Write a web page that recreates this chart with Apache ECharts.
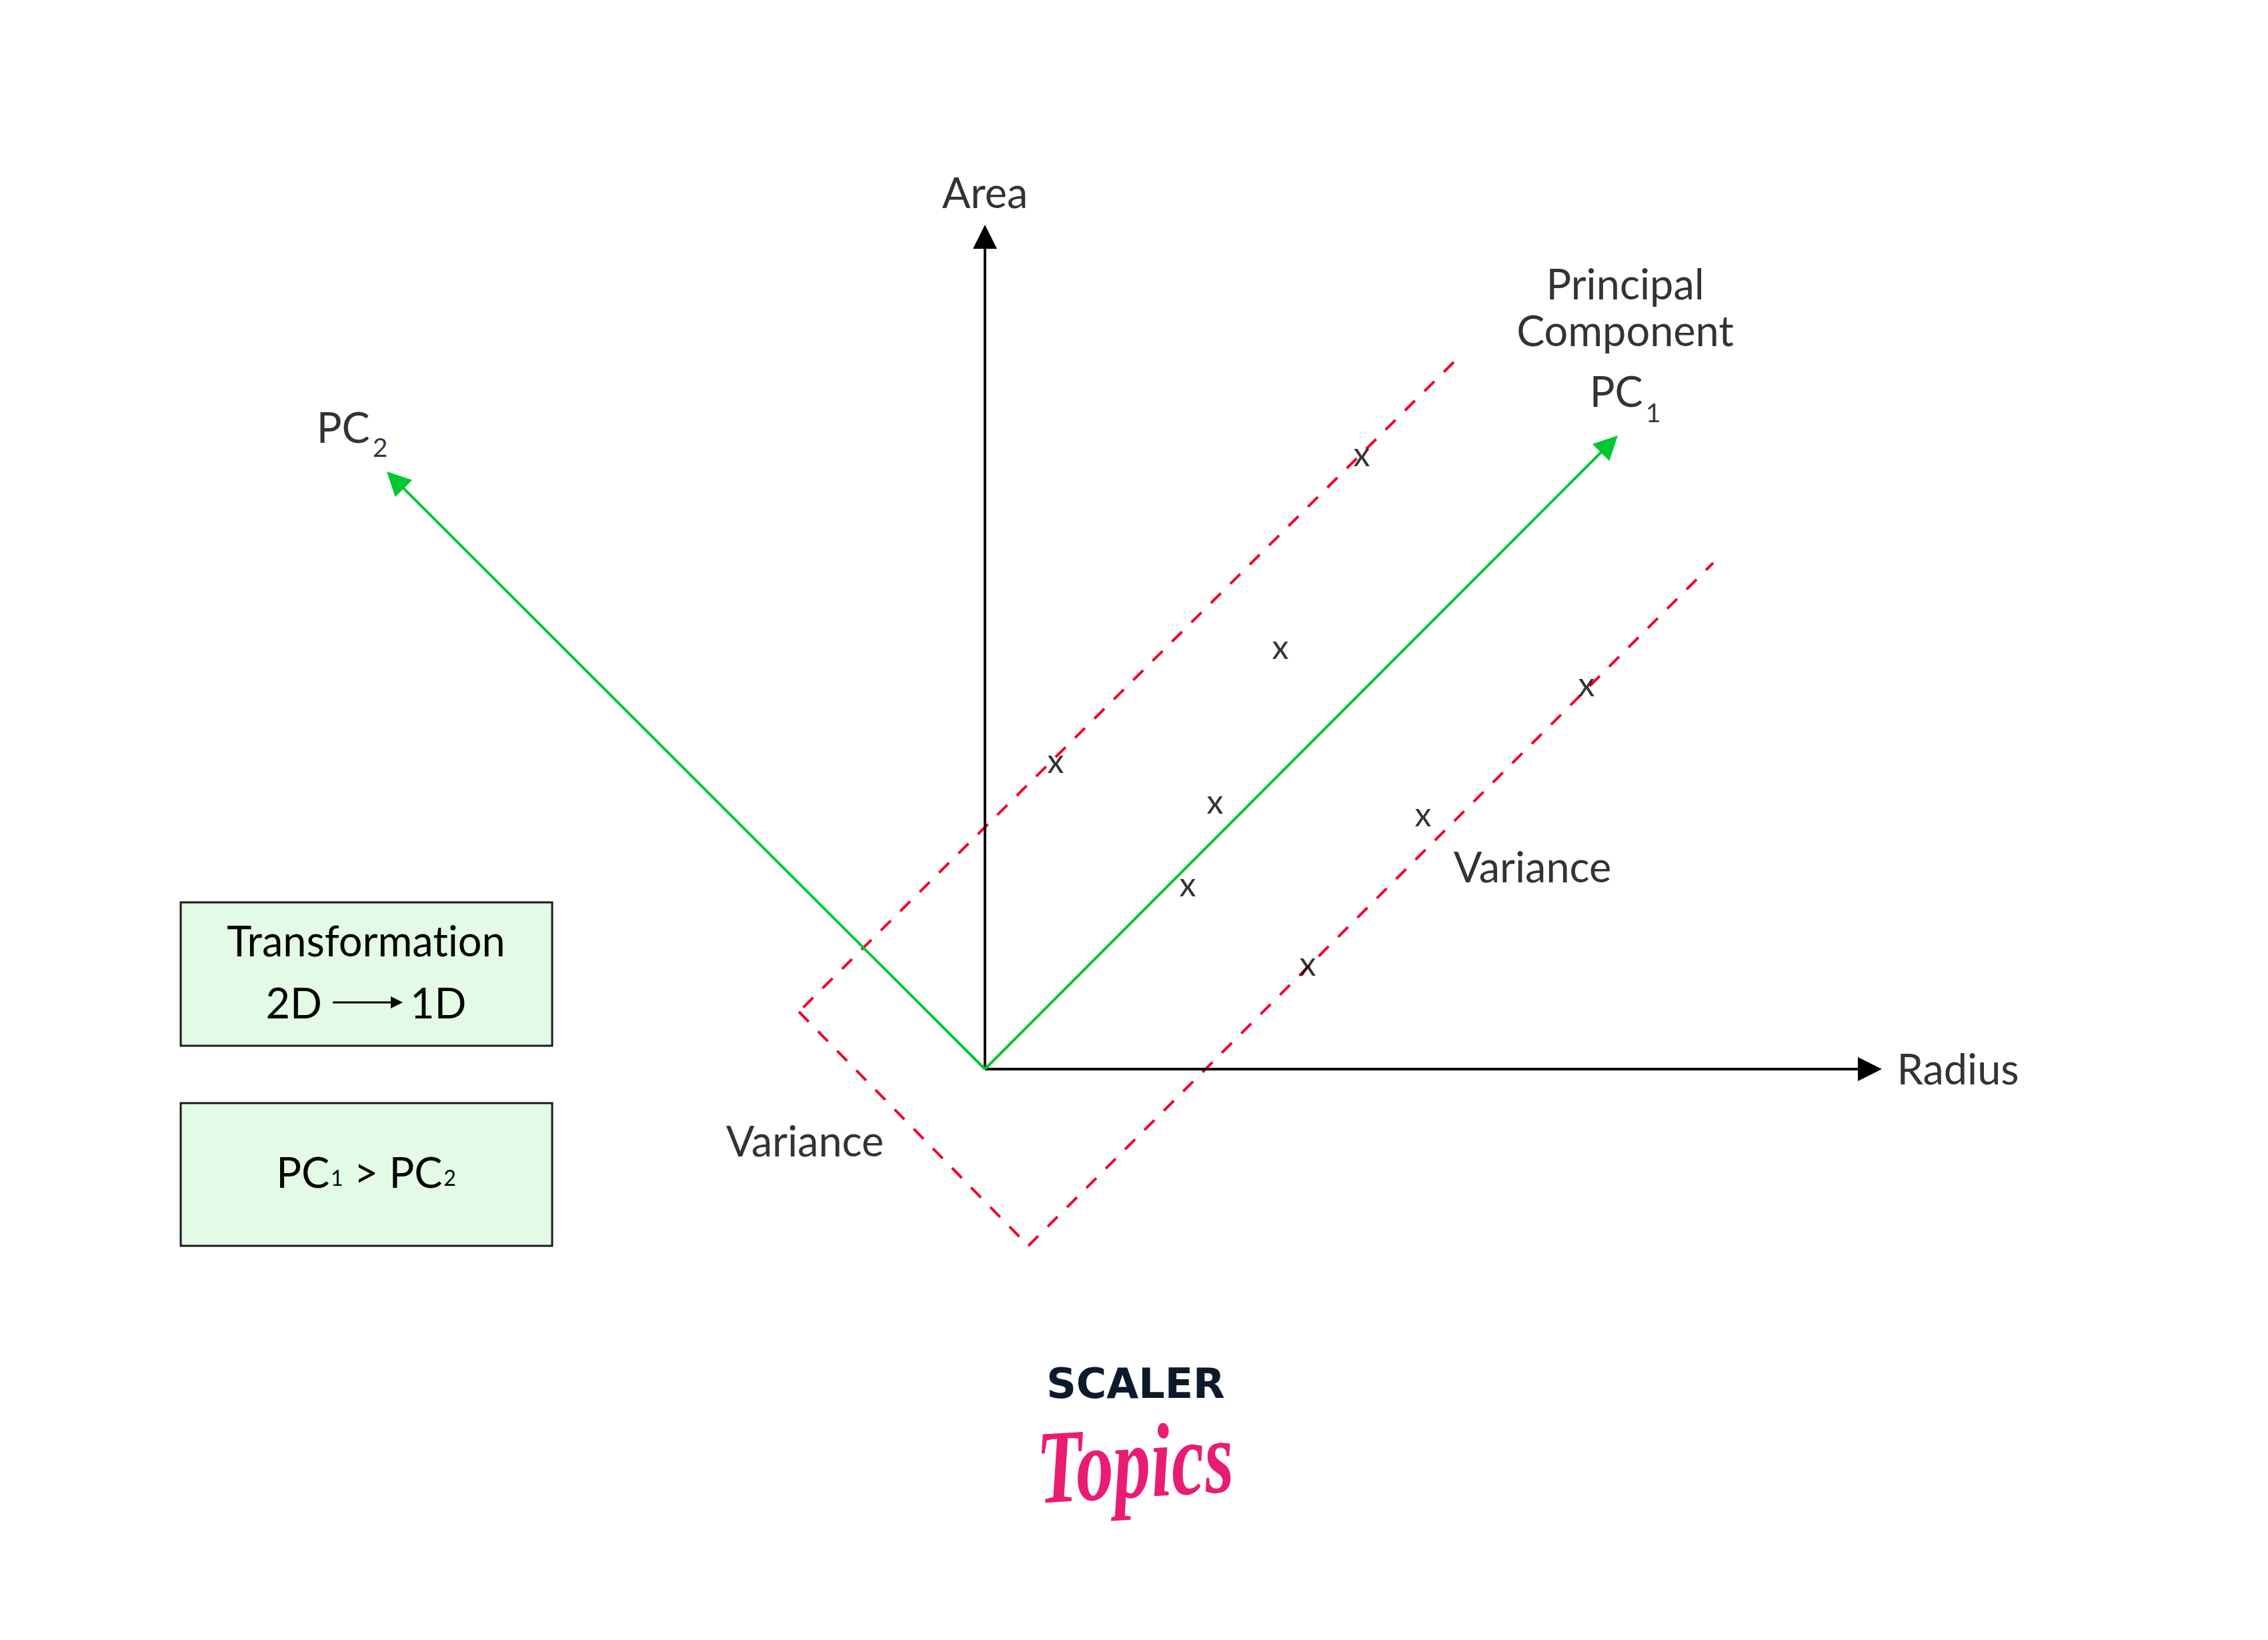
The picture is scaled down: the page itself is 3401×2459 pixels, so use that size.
<!DOCTYPE html>
<html>
<head>
<meta charset="utf-8">
<script src="https://cdn.jsdelivr.net/npm/echarts@6/dist/echarts.min.js"></script>
<style>
html,body{margin:0;padding:0;background:#ffffff;}
#c{width:3401px;height:2459px;}
svg text{font-variant-ligatures:none !important;}
</style>
</head>
<body>
<div id="c"></div>
<script>
// ---------------- DATA (feature space; origin = where Radius and Area axes meet) ----------------
const axisNames = ['Radius', 'Area'];
const radiusAxisEnd = [134.5, 0];
const areaAxisEnd = [0, 126.6];
const pc1End = [94.9, 95.0];
const pc2End = [-89.7, 89.6];
const varianceBand = [[70.3, 106.0], [-27.9, 8.6], [6.5, -26.5], [109.2, 75.9]];
const sampleX = [56.5, 44.3, 10.6, 34.5, 30.4, 90.2, 65.7, 48.4];
const sampleY = [91.8, 62.9, 45.8, 39.7, 27.3, 57.3, 37.8, 15.4];
const pcLabels = ['PC', '1', '2'];
const varianceLabel = 'Variance';
const pc1Title = ['Principal', 'Component'];
const boxTitle = 'Transformation';
const boxDims = ['2D', '1D'];
const logoWords = ['SCALER', 'Topics'];

// ---------------- LAYOUT / STYLE ----------------
const FONT = 'Lato';
const TXT = 63;
const BOX_TXT = 63;
const GREEN = '#00c832';
const RED = '#f2002b';
const ARROW_UNITS = 1.8; // half of arrow-head length in data units (1 unit = 10 px)

function shaft(end) {
  const L = Math.hypot(end[0], end[1]);
  return [end[0] * (1 - ARROW_UNITS / L), end[1] * (1 - ARROW_UNITS / L)];
}

const chart = echarts.init(document.getElementById('c'), null, {renderer: 'svg', width: 3401, height: 2459});

const lbl = (text, extra) => Object.assign({
  show: true, position: 'inside', formatter: text, color: '#000',
  fontFamily: FONT, fontSize: TXT, align: 'center', verticalAlign: 'middle', offset: [0, -4]
}, extra || {});

const subRich = (off) => ({
  m: {fontFamily: FONT, fontSize: TXT, color: '#000', lineHeight: 66},
  s: {fontFamily: FONT, fontSize: 39, color: '#000', padding: [off, 0, 0, 4]}
});

const annotations = [
  {value: [0, 131.2], label: lbl(axisNames[1])},
  {value: [145.9, -0.2], label: lbl(axisNames[0])},
  {value: [96.0, 114.0], label: lbl(pc1Title.join('\n'), {lineHeight: 70})},
  {value: [96.0, 101.4], label: lbl('{m|' + pcLabels[0] + '}{s|' + pcLabels[1] + '}', {rich: subRich(66)})},
  {value: [-94.9, 96.0], label: lbl('{m|' + pcLabels[0] + '}{s|' + pcLabels[2] + '}', {rich: subRich(62)})},
  {value: [82.1, 30.1], label: lbl(varianceLabel)},
  {value: [-27.0, -11.0], label: lbl(varianceLabel)}
];

const bandSeries = [0, 1, 2].map(i => ({
  type: 'line', silent: true, z: 2, showSymbol: false, symbol: 'none',
  lineStyle: {color: RED, width: 4, type: [21, 20]},
  data: [varianceBand[i], varianceBand[i + 1]]
}));

const invisible = {color: 'rgba(0,0,0,0)', borderWidth: 0};

const option = {
  backgroundColor: '#ffffff',
  animation: false,
  grid: {left: 0, right: 0, top: 0, bottom: 0, containLabel: false},
  xAxis: {type: 'value', min: -147.7, max: 192.4, show: false},
  yAxis: {type: 'value', min: -85.6, max: 160.3, show: false},
  series: bandSeries.concat([
    {
      type: 'lines', coordinateSystem: 'cartesian2d', silent: true, z: 3,
      symbol: ['none', 'triangle'], symbolSize: [42, 36],
      lineStyle: {color: '#000', width: 4, opacity: 1, curveness: 0},
      data: [
        {coords: [[0, 0], shaft(radiusAxisEnd)]},
        {coords: [[0, 0], shaft(areaAxisEnd)]}
      ]
    },
    {
      type: 'lines', coordinateSystem: 'cartesian2d', silent: true, z: 4,
      symbol: ['none', 'triangle'], symbolSize: [42, 36],
      lineStyle: {color: GREEN, width: 4, opacity: 1, curveness: 0},
      data: [
        {coords: [[0, 0], shaft(pc1End)]},
        {coords: [[0, 0], shaft(pc2End)]}
      ]
    },
    {
      type: 'scatter', silent: true, z: 5,
      symbol: 'circle', symbolSize: 1, itemStyle: invisible,
      label: {show: true, position: 'inside', formatter: 'x', color: '#000', fontFamily: FONT, fontSize: 50, offset: [0, -5]},
      data: sampleX.map((x, i) => [x, sampleY[i]])
    },
    {
      type: 'scatter', silent: true, z: 6,
      symbol: 'circle', symbolSize: 1, itemStyle: invisible,
      data: annotations
    }
  ]),
  graphic: [
    {type: 'rect', z: 10, shape: {x: 271, y: 1353, width: 557, height: 215},
     style: {fill: '#e3fbe6', stroke: '#1a1a1a', lineWidth: 3}},
    {type: 'rect', z: 10, shape: {x: 271, y: 1654, width: 557, height: 214},
     style: {fill: '#e3fbe6', stroke: '#1a1a1a', lineWidth: 3}},
    {type: 'text', z: 11, x: 549, y: 1409,
     style: {text: boxTitle, fontFamily: FONT, fontSize: BOX_TXT, fill: '#000', align: 'center', verticalAlign: 'middle', textAlign: 'center', textVerticalAlign: 'middle'}},
    {type: 'text', z: 11, x: 483, y: 1502,
     style: {text: boxDims[0], fontFamily: FONT, fontSize: BOX_TXT, fill: '#000', align: 'right', verticalAlign: 'middle', textAlign: 'right', textVerticalAlign: 'middle'}},
    {type: 'line', z: 11, shape: {x1: 499, y1: 1503, x2: 590, y2: 1503}, style: {stroke: '#000', lineWidth: 3}},
    {type: 'polygon', z: 11, shape: {points: [[586, 1494], [604, 1503], [586, 1512]]}, style: {fill: '#000'}},
    {type: 'text', z: 11, x: 615, y: 1502,
     style: {text: boxDims[1], fontFamily: FONT, fontSize: BOX_TXT, fill: '#000', align: 'left', verticalAlign: 'middle', textAlign: 'left', textVerticalAlign: 'middle'}},
    {type: 'text', z: 11, x: 549, y: 1756,
     style: {
       text: '{m|PC}{s|1}{m| > PC}{s|2}',
       align: 'center', verticalAlign: 'middle', textAlign: 'center', textVerticalAlign: 'middle',
       rich: {
         m: {fontFamily: FONT, fontSize: BOX_TXT, fill: '#000', color: '#000', lineHeight: 66},
         s: {fontFamily: FONT, fontSize: 32, fill: '#000', color: '#000', padding: [19, 0, 0, 2]}
       }
     }},
    {type: 'text', z: 11, x: 1703, y: 2074,
     style: {text: logoWords[0], fontFamily: 'DejaVu Sans', fontWeight: 'bold', fontSize: 62, fill: '#0d1a2b',
       align: 'center', verticalAlign: 'middle', textAlign: 'center', textVerticalAlign: 'middle'}},
    {type: 'text', z: 11, x: 1702, y: 2192, rotation: 0.06, scaleY: 1.4,
     style: {text: logoWords[1], fontFamily: 'Liberation Serif', fontStyle: 'italic', fontWeight: 'bold', fontSize: 112, fill: '#e91c74',
       align: 'center', verticalAlign: 'middle', textAlign: 'center', textVerticalAlign: 'middle'}}
  ]
};

chart.setOption(option);
</script>
</body>
</html>
